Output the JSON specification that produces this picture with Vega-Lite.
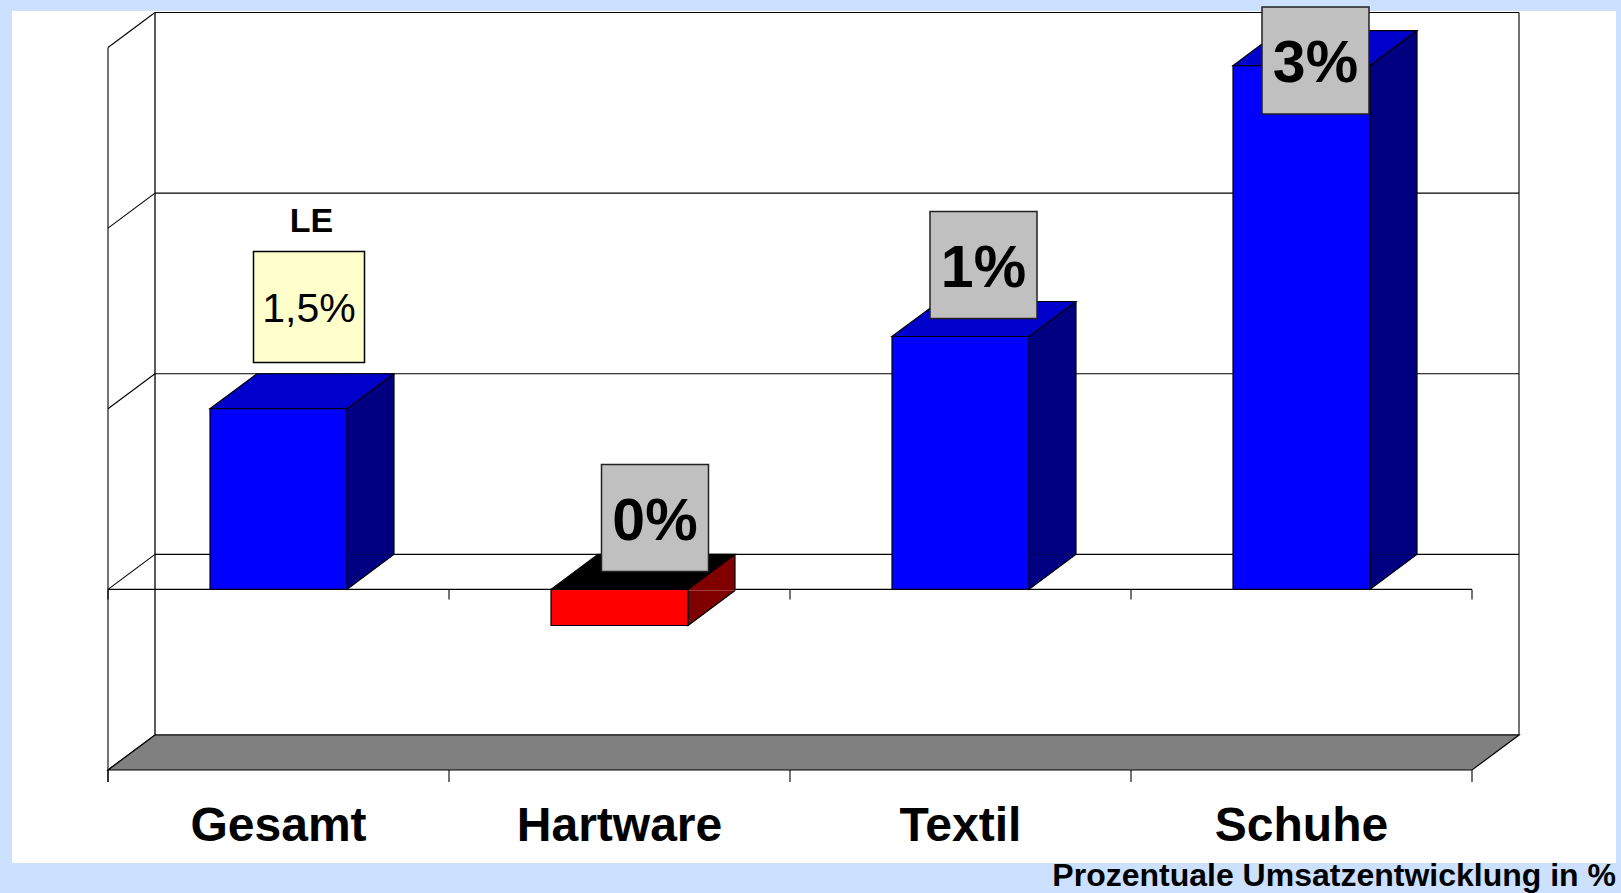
{
  "$schema": "https://vega.github.io/schema/vega-lite/v6.json",
  "width": 1604,
  "height": 852,
  "autosize": {"type": "none"},
  "padding": {"left": 12, "top": 11, "right": 5, "bottom": 30},
  "background": "#cce0ff",
  "config": {"font": "Liberation Sans", "view": {"fill": "white", "stroke": null}},
  "title": {"text": "Prozentuale Umsatzentwicklung in %", "orient": "bottom", "anchor": "end", "frame": "group", "fontSize": 32, "fontWeight": "bold", "font": "Liberation Sans", "color": "black", "baseline": "alphabetic", "offset": 23},
  "datasets": {
    "bars": [
      {"category": "Gesamt", "value": 1.0, "label": "1,5%", "note": "LE"},
      {"category": "Hartware", "value": -0.2, "label": "0%", "note": ""},
      {"category": "Textil", "value": 1.4, "label": "1%", "note": ""},
      {"category": "Schuhe", "value": 2.9, "label": "3%", "note": ""}
    ],
    "ticks": [{"t": -1}, {"t": 0}, {"t": 1}, {"t": 2}, {"t": 3}],
    "one": [{}]
  },
  "resolve": {"scale": {"x": "independent"}},
  "layer": [
    {
      "layer": [
        {
          "data": {"name": "ticks"},
          "mark": {"type": "rule", "color": "black", "strokeWidth": 1.1, "xOffset": 47, "x2Offset": 47, "yOffset": -35},
          "encoding": {
            "x": {"datum": 0, "type": "quantitative", "scale": {"domain": [0, 1], "range": [96, 1460], "nice": false, "zero": false}, "axis": null},
            "x2": {"datum": 1},
            "y": {"field": "t", "type": "quantitative", "scale": {"domain": [-1, 3], "range": [759, 36.5], "nice": false, "zero": false}, "axis": null}
          }
        },
        {
          "data": {"name": "ticks"},
          "mark": {"type": "rule", "color": "black", "strokeWidth": 1.1, "x2Offset": 47, "y2Offset": -35},
          "encoding": {
            "x": {"datum": 0, "type": "quantitative", "scale": {"domain": [0, 1], "range": [96, 1460], "nice": false, "zero": false}, "axis": null},
            "x2": {"datum": 0},
            "y": {"field": "t", "type": "quantitative", "scale": {"domain": [-1, 3], "range": [759, 36.5], "nice": false, "zero": false}, "axis": null},
            "y2": {"field": "t"}
          }
        },
        {
          "data": {"name": "one"},
          "mark": {"type": "rule", "color": "black", "strokeWidth": 1.3, "xOffset": 47, "yOffset": -35, "y2Offset": -35},
          "encoding": {
            "x": {"datum": 0, "type": "quantitative", "scale": {"domain": [0, 1], "range": [96, 1460], "nice": false, "zero": false}, "axis": null},
            "y": {"datum": -1, "type": "quantitative", "scale": {"domain": [-1, 3], "range": [759, 36.5], "nice": false, "zero": false}, "axis": null},
            "y2": {"datum": 3}
          }
        },
        {
          "data": {"name": "one"},
          "mark": {"type": "rule", "color": "black", "strokeWidth": 1.1, "xOffset": 47, "yOffset": -35, "y2Offset": -35},
          "encoding": {
            "x": {"datum": 1, "type": "quantitative", "scale": {"domain": [0, 1], "range": [96, 1460], "nice": false, "zero": false}, "axis": null},
            "y": {"datum": -1, "type": "quantitative", "scale": {"domain": [-1, 3], "range": [759, 36.5], "nice": false, "zero": false}, "axis": null},
            "y2": {"datum": 3}
          }
        },
        {
          "data": {"name": "one"},
          "mark": {"type": "rule", "color": "black", "strokeWidth": 1.1, "y2Offset": 12},
          "encoding": {
            "x": {"datum": 0, "type": "quantitative", "scale": {"domain": [0, 1], "range": [96, 1460], "nice": false, "zero": false}, "axis": null},
            "y": {"datum": 3, "type": "quantitative", "scale": {"domain": [-1, 3], "range": [759, 36.5], "nice": false, "zero": false}, "axis": null},
            "y2": {"datum": -1}
          }
        },
        {
          "data": {"name": "one"},
          "mark": {"type": "rule", "color": "black", "strokeWidth": 1.1},
          "encoding": {
            "x": {"datum": 0, "type": "quantitative", "scale": {"domain": [0, 1], "range": [96, 1460], "nice": false, "zero": false}, "axis": null},
            "x2": {"datum": 1},
            "y": {"datum": 0, "type": "quantitative", "scale": {"domain": [-1, 3], "range": [759, 36.5], "nice": false, "zero": false}, "axis": null}
          }
        },
        {
          "data": {"name": "one"},
          "mark": {"type": "rule", "color": "black", "strokeWidth": 1.1, "y2Offset": 10},
          "encoding": {
            "x": {"datum": 1, "type": "quantitative", "scale": {"domain": [0, 1], "range": [96, 1460], "nice": false, "zero": false}, "axis": null},
            "y": {"datum": 0, "type": "quantitative", "scale": {"domain": [-1, 3], "range": [759, 36.5], "nice": false, "zero": false}, "axis": null},
            "y2": {"datum": 0}
          }
        },
        {
          "data": {"name": "one"},
          "mark": {"type": "rule", "color": "black", "strokeWidth": 1.1, "y2Offset": 12},
          "encoding": {
            "x": {"datum": 1, "type": "quantitative", "scale": {"domain": [0, 1], "range": [96, 1460], "nice": false, "zero": false}, "axis": null},
            "y": {"datum": -1, "type": "quantitative", "scale": {"domain": [-1, 3], "range": [759, 36.5], "nice": false, "zero": false}, "axis": null},
            "y2": {"datum": -1}
          }
        },
        {
          "data": {"name": "one"},
          "mark": {"type": "point", "shape": "M0,0L1364,0L1411,-35L47,-35Z", "size": 4, "filled": true, "fill": "#808080", "stroke": "black", "strokeWidth": 1.2, "opacity": 1},
          "encoding": {
            "x": {"datum": 0, "type": "quantitative", "scale": {"domain": [0, 1], "range": [96, 1460], "nice": false, "zero": false}, "axis": null},
            "y": {"datum": -1, "type": "quantitative", "scale": {"domain": [-1, 3], "range": [759, 36.5], "nice": false, "zero": false}, "axis": null}
          }
        }
      ]
    },
    {
      "data": {"name": "bars"},
      "layer": [
        {
          "mark": {"type": "rule", "color": "black", "strokeWidth": 1.1, "xOffset": -170.5, "y2Offset": 10},
          "encoding": {
            "x": {"field": "category", "type": "nominal", "scale": {"domain": ["Gesamt", "Hartware", "Textil", "Schuhe"], "range": [96, 1460], "paddingInner": 0, "paddingOuter": 0}, "axis": null},
            "y": {"datum": 0, "type": "quantitative", "scale": {"domain": [-1, 3], "range": [759, 36.5], "nice": false, "zero": false}, "axis": null},
            "y2": {"datum": 0}
          }
        },
        {
          "mark": {"type": "rule", "color": "black", "strokeWidth": 1.1, "xOffset": -170.5, "y2Offset": 12},
          "encoding": {
            "x": {"field": "category", "type": "nominal", "scale": {"domain": ["Gesamt", "Hartware", "Textil", "Schuhe"], "range": [96, 1460], "paddingInner": 0, "paddingOuter": 0}, "axis": null},
            "y": {"datum": -1, "type": "quantitative", "scale": {"domain": [-1, 3], "range": [759, 36.5], "nice": false, "zero": false}, "axis": null},
            "y2": {"datum": -1}
          }
        },
        {
          "mark": {"type": "bar", "width": 47, "xOffset": 92, "yOffset": -35, "y2Offset": -35, "strokeWidth": 0},
          "encoding": {
            "x": {"field": "category", "type": "nominal", "scale": {"domain": ["Gesamt", "Hartware", "Textil", "Schuhe"], "range": [96, 1460], "paddingInner": 0, "paddingOuter": 0}, "axis": null},
            "y": {"field": "value", "type": "quantitative", "scale": {"domain": [-1, 3], "range": [759, 36.5], "nice": false, "zero": false}, "axis": null},
            "y2": {"datum": 0},
            "fill": {"condition": {"test": "datum.value < 0", "value": "#800000"}, "value": "#000080"}
          }
        },
        {
          "transform": [{"filter": "datum.value >= 0"}],
          "mark": {"type": "point", "shape": "M115.5,-35L68.5,0L68.5,-35", "size": 4, "filled": true, "fill": "#000080", "stroke": "black", "strokeWidth": 1.2, "opacity": 1},
          "encoding": {
            "x": {"field": "category", "type": "nominal", "scale": {"domain": ["Gesamt", "Hartware", "Textil", "Schuhe"], "range": [96, 1460], "paddingInner": 0, "paddingOuter": 0}, "axis": null},
            "y": {"datum": 0, "type": "quantitative", "scale": {"domain": [-1, 3], "range": [759, 36.5], "nice": false, "zero": false}, "axis": null}
          }
        },
        {
          "transform": [{"filter": "datum.value < 0"}],
          "mark": {"type": "point", "shape": "M115.5,-35L68.5,0L68.5,-35", "size": 4, "filled": true, "fill": "#800000", "stroke": "black", "strokeWidth": 1.2, "opacity": 1},
          "encoding": {
            "x": {"field": "category", "type": "nominal", "scale": {"domain": ["Gesamt", "Hartware", "Textil", "Schuhe"], "range": [96, 1460], "paddingInner": 0, "paddingOuter": 0}, "axis": null},
            "y": {"field": "value", "type": "quantitative", "scale": {"domain": [-1, 3], "range": [759, 36.5], "nice": false, "zero": false}, "axis": null}
          }
        },
        {
          "mark": {"type": "rule", "xOffset": 115.5, "yOffset": -35, "y2Offset": -35, "color": "black", "strokeWidth": 1.2},
          "encoding": {
            "x": {"field": "category", "type": "nominal", "scale": {"domain": ["Gesamt", "Hartware", "Textil", "Schuhe"], "range": [96, 1460], "paddingInner": 0, "paddingOuter": 0}, "axis": null},
            "y": {"field": "value", "type": "quantitative", "scale": {"domain": [-1, 3], "range": [759, 36.5], "nice": false, "zero": false}, "axis": null},
            "y2": {"datum": 0}
          }
        },
        {
          "transform": [{"filter": "datum.value >= 0"}],
          "mark": {"type": "point", "shape": "M-68.5,0L68.5,0L115.5,-35L-21.5,-35Z", "size": 4, "filled": true, "fill": "#0000cc", "stroke": "black", "strokeWidth": 1.2, "opacity": 1},
          "encoding": {
            "x": {"field": "category", "type": "nominal", "scale": {"domain": ["Gesamt", "Hartware", "Textil", "Schuhe"], "range": [96, 1460], "paddingInner": 0, "paddingOuter": 0}, "axis": null},
            "y": {"field": "value", "type": "quantitative", "scale": {"domain": [-1, 3], "range": [759, 36.5], "nice": false, "zero": false}, "axis": null}
          }
        },
        {
          "transform": [{"filter": "datum.value < 0"}],
          "mark": {"type": "point", "shape": "M-68.5,0L68.5,0L115.5,-35L-21.5,-35Z", "size": 4, "filled": true, "fill": "#000000", "stroke": "black", "strokeWidth": 1.2, "opacity": 1},
          "encoding": {
            "x": {"field": "category", "type": "nominal", "scale": {"domain": ["Gesamt", "Hartware", "Textil", "Schuhe"], "range": [96, 1460], "paddingInner": 0, "paddingOuter": 0}, "axis": null},
            "y": {"datum": 0, "type": "quantitative", "scale": {"domain": [-1, 3], "range": [759, 36.5], "nice": false, "zero": false}, "axis": null}
          }
        },
        {
          "mark": {"type": "bar", "width": 137, "stroke": "black", "strokeWidth": 1.2},
          "encoding": {
            "x": {"field": "category", "type": "nominal", "scale": {"domain": ["Gesamt", "Hartware", "Textil", "Schuhe"], "range": [96, 1460], "paddingInner": 0, "paddingOuter": 0}, "axis": null},
            "y": {"field": "value", "type": "quantitative", "scale": {"domain": [-1, 3], "range": [759, 36.5], "nice": false, "zero": false}, "axis": null},
            "y2": {"datum": 0},
            "fill": {"condition": {"test": "datum.value < 0", "value": "#ff0000"}, "value": "#0000ff"}
          }
        },
        {
          "mark": {"type": "text", "fontSize": 48, "fontWeight": "bold", "baseline": "middle", "align": "center", "yOffset": 56.5, "color": "black"},
          "encoding": {
            "x": {"field": "category", "type": "nominal", "scale": {"domain": ["Gesamt", "Hartware", "Textil", "Schuhe"], "range": [96, 1460], "paddingInner": 0, "paddingOuter": 0}, "axis": null},
            "y": {"datum": -1, "type": "quantitative", "scale": {"domain": [-1, 3], "range": [759, 36.5], "nice": false, "zero": false}, "axis": null},
            "text": {"field": "category"}
          }
        },
        {
          "transform": [{"filter": "datum.category === 'Gesamt'"}],
          "mark": {"type": "text", "fontSize": 34, "fontWeight": "bold", "baseline": "middle", "align": "center", "xOffset": 33, "yOffset": -186.8, "color": "black"},
          "encoding": {
            "x": {"field": "category", "type": "nominal", "scale": {"domain": ["Gesamt", "Hartware", "Textil", "Schuhe"], "range": [96, 1460], "paddingInner": 0, "paddingOuter": 0}, "axis": null},
            "y": {"field": "value", "type": "quantitative", "scale": {"domain": [-1, 3], "range": [759, 36.5], "nice": false, "zero": false}, "axis": null},
            "text": {"field": "note"}
          }
        },
        {
          "transform": [{"filter": "datum.category === 'Gesamt'"}],
          "mark": {"type": "point", "shape": "square", "size": 12321, "filled": true, "fill": "#ffffcc", "stroke": "black", "strokeWidth": 1.5, "opacity": 1, "xOffset": 30.5, "yOffset": -101.8},
          "encoding": {
            "x": {"field": "category", "type": "nominal", "scale": {"domain": ["Gesamt", "Hartware", "Textil", "Schuhe"], "range": [96, 1460], "paddingInner": 0, "paddingOuter": 0}, "axis": null},
            "y": {"field": "value", "type": "quantitative", "scale": {"domain": [-1, 3], "range": [759, 36.5], "nice": false, "zero": false}, "axis": null}
          }
        },
        {
          "transform": [{"filter": "datum.category === 'Gesamt'"}],
          "mark": {"type": "text", "fontSize": 41, "baseline": "middle", "align": "center", "xOffset": 30.5, "yOffset": -98.4, "color": "black"},
          "encoding": {
            "x": {"field": "category", "type": "nominal", "scale": {"domain": ["Gesamt", "Hartware", "Textil", "Schuhe"], "range": [96, 1460], "paddingInner": 0, "paddingOuter": 0}, "axis": null},
            "y": {"field": "value", "type": "quantitative", "scale": {"domain": [-1, 3], "range": [759, 36.5], "nice": false, "zero": false}, "axis": null},
            "text": {"field": "label"}
          }
        },
        {
          "transform": [{"filter": "datum.category === 'Hartware'"}],
          "mark": {"type": "point", "shape": "square", "size": 11449, "filled": true, "fill": "#c0c0c0", "stroke": "#222222", "strokeWidth": 1.5, "opacity": 1, "xOffset": 35.5, "yOffset": -71.4},
          "encoding": {
            "x": {"field": "category", "type": "nominal", "scale": {"domain": ["Gesamt", "Hartware", "Textil", "Schuhe"], "range": [96, 1460], "paddingInner": 0, "paddingOuter": 0}, "axis": null},
            "y": {"datum": 0, "type": "quantitative", "scale": {"domain": [-1, 3], "range": [759, 36.5], "nice": false, "zero": false}, "axis": null}
          }
        },
        {
          "transform": [{"filter": "datum.category === 'Hartware'"}],
          "mark": {"type": "text", "fontSize": 59, "fontWeight": "bold", "baseline": "middle", "align": "center", "xOffset": 35.5, "yOffset": -67.6, "color": "black"},
          "encoding": {
            "x": {"field": "category", "type": "nominal", "scale": {"domain": ["Gesamt", "Hartware", "Textil", "Schuhe"], "range": [96, 1460], "paddingInner": 0, "paddingOuter": 0}, "axis": null},
            "y": {"datum": 0, "type": "quantitative", "scale": {"domain": [-1, 3], "range": [759, 36.5], "nice": false, "zero": false}, "axis": null},
            "text": {"field": "label"}
          }
        },
        {
          "transform": [{"filter": "datum.category === 'Textil'"}],
          "mark": {"type": "point", "shape": "square", "size": 11449, "filled": true, "fill": "#c0c0c0", "stroke": "#222222", "strokeWidth": 1.5, "opacity": 1, "xOffset": 23, "yOffset": -71.5},
          "encoding": {
            "x": {"field": "category", "type": "nominal", "scale": {"domain": ["Gesamt", "Hartware", "Textil", "Schuhe"], "range": [96, 1460], "paddingInner": 0, "paddingOuter": 0}, "axis": null},
            "y": {"field": "value", "type": "quantitative", "scale": {"domain": [-1, 3], "range": [759, 36.5], "nice": false, "zero": false}, "axis": null}
          }
        },
        {
          "transform": [{"filter": "datum.category === 'Textil'"}],
          "mark": {"type": "text", "fontSize": 59, "fontWeight": "bold", "baseline": "middle", "align": "center", "xOffset": 23, "yOffset": -68, "color": "black"},
          "encoding": {
            "x": {"field": "category", "type": "nominal", "scale": {"domain": ["Gesamt", "Hartware", "Textil", "Schuhe"], "range": [96, 1460], "paddingInner": 0, "paddingOuter": 0}, "axis": null},
            "y": {"field": "value", "type": "quantitative", "scale": {"domain": [-1, 3], "range": [759, 36.5], "nice": false, "zero": false}, "axis": null},
            "text": {"field": "label"}
          }
        },
        {
          "transform": [{"filter": "datum.category === 'Schuhe'"}],
          "mark": {"type": "point", "shape": "square", "size": 11449, "filled": true, "fill": "#c0c0c0", "stroke": "#222222", "strokeWidth": 1.5, "opacity": 1, "xOffset": 14, "yOffset": -5.1},
          "encoding": {
            "x": {"field": "category", "type": "nominal", "scale": {"domain": ["Gesamt", "Hartware", "Textil", "Schuhe"], "range": [96, 1460], "paddingInner": 0, "paddingOuter": 0}, "axis": null},
            "y": {"field": "value", "type": "quantitative", "scale": {"domain": [-1, 3], "range": [759, 36.5], "nice": false, "zero": false}, "axis": null}
          }
        },
        {
          "transform": [{"filter": "datum.category === 'Schuhe'"}],
          "mark": {"type": "text", "fontSize": 59, "fontWeight": "bold", "baseline": "middle", "align": "center", "xOffset": 14, "yOffset": -1.2, "color": "black"},
          "encoding": {
            "x": {"field": "category", "type": "nominal", "scale": {"domain": ["Gesamt", "Hartware", "Textil", "Schuhe"], "range": [96, 1460], "paddingInner": 0, "paddingOuter": 0}, "axis": null},
            "y": {"field": "value", "type": "quantitative", "scale": {"domain": [-1, 3], "range": [759, 36.5], "nice": false, "zero": false}, "axis": null},
            "text": {"field": "label"}
          }
        }
      ]
    }
  ]
}
